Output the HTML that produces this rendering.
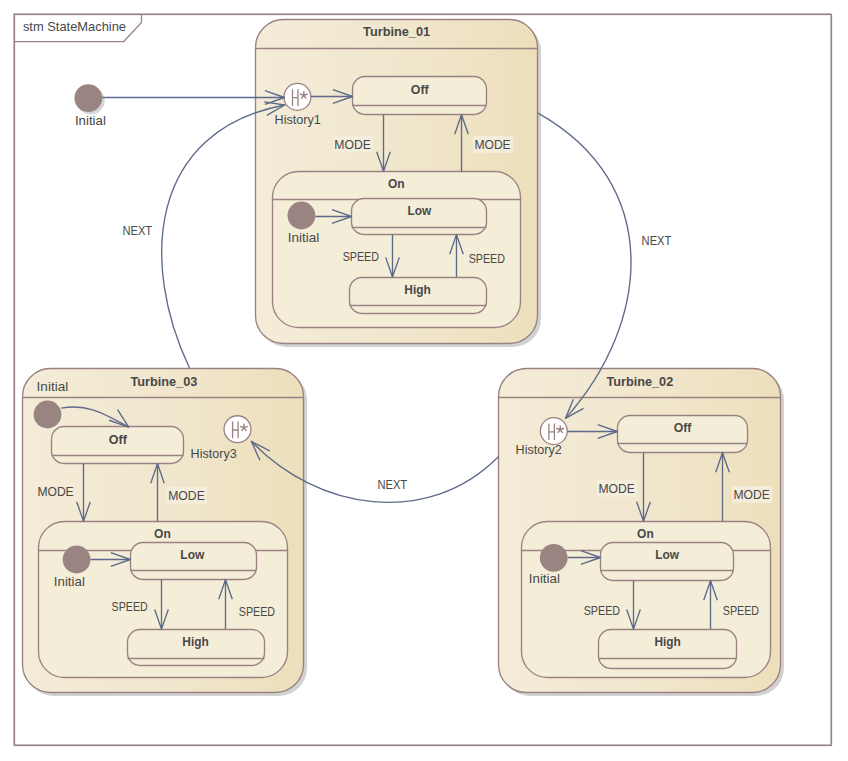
<!DOCTYPE html><html><head><meta charset="utf-8"><style>html,body{margin:0;padding:0;background:#fff;overflow:hidden;}svg{display:block;font-family:"Liberation Sans",sans-serif;}</style></head><body>
<svg width="848" height="761" viewBox="0 0 848 761">
<defs><linearGradient id="g" x1="0" y1="0" x2="1" y2="0"><stop offset="0" stop-color="#f4ecd8"/><stop offset="0.5" stop-color="#f1e7ce"/><stop offset="1" stop-color="#ecdfbb"/></linearGradient></defs>
<rect x="13.5" y="13.5" width="817" height="731" fill="none" stroke="#c4c4c4" stroke-width="1"/>
<rect x="14.5" y="14.5" width="817" height="731" fill="none" stroke="#9a8282" stroke-width="1.25"/>
<path d="M14.5,41.5 H123.7 L141.5,22.5 V14.5" fill="none" stroke="#9a8282" stroke-width="1.25"/>
<text x="74.45" y="31.1" font-size="13" font-weight="normal" text-anchor="middle" fill="#484848" textLength="103.1" lengthAdjust="spacingAndGlyphs">stm StateMachine</text>
<rect x="258.5" y="23.0" width="282.5" height="324.0" rx="28" fill="#d2d2d2" />
<rect x="255.5" y="19.5" width="282.0" height="324.0" rx="28" fill="url(#g)" stroke="#9a8282" stroke-width="1.35"/>
<line x1="255.5" y1="48.5" x2="537.5" y2="48.5" stroke="#9a8282" stroke-width="1.3"/>
<text x="396.60" y="35.7" font-size="13" font-weight="bold" text-anchor="middle" fill="#484848" textLength="67.0" lengthAdjust="spacingAndGlyphs">Turbine_01</text>
<circle cx="90.8" cy="100.6" r="13.9" fill="#d6d6d6"/>
<circle cx="88.3" cy="98.1" r="13.9" fill="#9a8482"/>
<text x="90.40" y="124.8" font-size="13" font-weight="normal" text-anchor="middle" fill="#484848" textLength="31.0" lengthAdjust="spacingAndGlyphs">Initial</text>
<circle cx="297.4" cy="96.9" r="13.45" fill="#ffffff" stroke="#9a8282" stroke-width="1.3"/>
<path d="M292.50,89.20 V105.90 M298.00,89.20 V105.90 M292.50,97.70 H298.00" stroke="#9a8282" stroke-width="1.3" fill="none"/>
<path d="M303.80,95.30 L303.80,91.20 M303.80,95.30 L307.70,94.03 M303.80,95.30 L306.21,98.62 M303.80,95.30 L301.39,98.62 M303.80,95.30 L299.90,94.03 " stroke="#9a8282" stroke-width="1.4" fill="none"/>
<text x="297.70" y="123.7" font-size="13" font-weight="normal" text-anchor="middle" fill="#484848" textLength="46.2" lengthAdjust="spacingAndGlyphs">History1</text>
<rect x="352.5" y="76.5" width="134.0" height="38.0" rx="12.5" fill="#f4edd8" stroke="#9a8282" stroke-width="1.35"/>
<line x1="352.5" y1="105.5" x2="486.5" y2="105.5" stroke="#9a8282" stroke-width="1.3"/>
<text x="419.75" y="93.9" font-size="13" font-weight="bold" text-anchor="middle" fill="#484848" textLength="17.9" lengthAdjust="spacingAndGlyphs">Off</text>
<rect x="272.5" y="171.5" width="248.0" height="156.0" rx="26" fill="#f4edd8" stroke="#9a8282" stroke-width="1.35"/>
<line x1="272.5" y1="199.5" x2="520.5" y2="199.5" stroke="#9a8282" stroke-width="1.3"/>
<text x="396.25" y="187.9" font-size="13" font-weight="bold" text-anchor="middle" fill="#484848" textLength="16.7" lengthAdjust="spacingAndGlyphs">On</text>
<rect x="351.5" y="198.5" width="135.0" height="36.0" rx="12.5" fill="#f4edd8" stroke="#9a8282" stroke-width="1.35"/>
<line x1="351.5" y1="227.5" x2="486.5" y2="227.5" stroke="#9a8282" stroke-width="1.3"/>
<text x="419.35" y="214.7" font-size="13" font-weight="bold" text-anchor="middle" fill="#484848" textLength="23.7" lengthAdjust="spacingAndGlyphs">Low</text>
<rect x="349.5" y="277.5" width="137.0" height="36.0" rx="12.5" fill="#f4edd8" stroke="#9a8282" stroke-width="1.35"/>
<line x1="349.5" y1="305.5" x2="486.5" y2="305.5" stroke="#9a8282" stroke-width="1.3"/>
<text x="417.55" y="293.8" font-size="13" font-weight="bold" text-anchor="middle" fill="#484848" textLength="26.5" lengthAdjust="spacingAndGlyphs">High</text>
<circle cx="301.4" cy="215.5" r="13.9" fill="#9a8482"/>
<text x="303.45" y="241.9" font-size="13" font-weight="normal" text-anchor="middle" fill="#484848" textLength="31.5" lengthAdjust="spacingAndGlyphs">Initial</text>
<line x1="102.2" y1="97.5" x2="284.5" y2="97.5" stroke="#5d6a8a" stroke-width="1.35"/>
<polyline points="264.90,104.30 284.50,97.50 264.90,90.70" fill="none" stroke="#5d6a8a" stroke-width="1.35" stroke-linejoin="round"/>
<line x1="310.8" y1="96.5" x2="352.5" y2="96.5" stroke="#5d6a8a" stroke-width="1.35"/>
<polyline points="332.90,103.30 352.50,96.50 332.90,89.70" fill="none" stroke="#5d6a8a" stroke-width="1.35" stroke-linejoin="round"/>
<line x1="383.5" y1="114.7" x2="383.5" y2="171.3" stroke="#5d6a8a" stroke-width="1.35"/>
<polyline points="376.70,151.70 383.50,171.30 390.30,151.70" fill="none" stroke="#5d6a8a" stroke-width="1.35" stroke-linejoin="round"/>
<line x1="461.5" y1="171.3" x2="461.5" y2="114.7" stroke="#5d6a8a" stroke-width="1.35"/>
<polyline points="468.30,134.30 461.50,114.70 454.70,134.30" fill="none" stroke="#5d6a8a" stroke-width="1.35" stroke-linejoin="round"/>
<rect x="333" y="136" width="40" height="16.69999999999999" fill="#f5eddc"/>
<text x="352.55" y="148.9" font-size="13" font-weight="normal" text-anchor="middle" fill="#484848" textLength="36.5" lengthAdjust="spacingAndGlyphs">MODE</text>
<rect x="473.1" y="136" width="39.89999999999998" height="16.80000000000001" fill="#f5eddc"/>
<text x="492.55" y="149" font-size="13" font-weight="normal" text-anchor="middle" fill="#484848" textLength="36.3" lengthAdjust="spacingAndGlyphs">MODE</text>
<line x1="315.3" y1="216.5" x2="351.5" y2="216.5" stroke="#5d6a8a" stroke-width="1.35"/>
<polyline points="331.90,223.30 351.50,216.50 331.90,209.70" fill="none" stroke="#5d6a8a" stroke-width="1.35" stroke-linejoin="round"/>
<line x1="392.5" y1="234.6" x2="392.5" y2="277" stroke="#5d6a8a" stroke-width="1.35"/>
<polyline points="385.70,257.40 392.50,277.00 399.30,257.40" fill="none" stroke="#5d6a8a" stroke-width="1.35" stroke-linejoin="round"/>
<line x1="456.5" y1="277" x2="456.5" y2="234.6" stroke="#5d6a8a" stroke-width="1.35"/>
<polyline points="463.30,254.20 456.50,234.60 449.70,254.20" fill="none" stroke="#5d6a8a" stroke-width="1.35" stroke-linejoin="round"/>
<text x="360.80" y="260.6" font-size="13" font-weight="normal" text-anchor="middle" fill="#484848" textLength="36.2" lengthAdjust="spacingAndGlyphs">SPEED</text>
<text x="486.85" y="262.6" font-size="13" font-weight="normal" text-anchor="middle" fill="#484848" textLength="36.3" lengthAdjust="spacingAndGlyphs">SPEED</text>
<rect x="25.5" y="372.0" width="281.5" height="324.0" rx="28" fill="#d2d2d2" />
<rect x="22.5" y="368.5" width="281.0" height="324.0" rx="28" fill="url(#g)" stroke="#9a8282" stroke-width="1.35"/>
<line x1="22.5" y1="397.5" x2="303.5" y2="397.5" stroke="#9a8282" stroke-width="1.3"/>
<text x="163.85" y="385.7" font-size="13" font-weight="bold" text-anchor="middle" fill="#484848" textLength="66.9" lengthAdjust="spacingAndGlyphs">Turbine_03</text>
<text x="52.40" y="390.8" font-size="13" font-weight="normal" text-anchor="middle" fill="#484848" textLength="31.6" lengthAdjust="spacingAndGlyphs">Initial</text>
<circle cx="47.5" cy="414.5" r="13.9" fill="#9a8482"/>
<rect x="51.5" y="426.5" width="132.0" height="37.0" rx="12.5" fill="#f4edd8" stroke="#9a8282" stroke-width="1.35"/>
<line x1="51.5" y1="455.5" x2="183.5" y2="455.5" stroke="#9a8282" stroke-width="1.3"/>
<text x="117.80" y="443.7" font-size="13" font-weight="bold" text-anchor="middle" fill="#484848" textLength="18.0" lengthAdjust="spacingAndGlyphs">Off</text>
<circle cx="237.5" cy="429.2" r="13.45" fill="#ffffff" stroke="#9a8282" stroke-width="1.3"/>
<path d="M232.60,421.50 V438.20 M238.10,421.50 V438.20 M232.60,430.00 H238.10" stroke="#9a8282" stroke-width="1.3" fill="none"/>
<path d="M243.90,427.60 L243.90,423.50 M243.90,427.60 L247.80,426.33 M243.90,427.60 L246.31,430.92 M243.90,427.60 L241.49,430.92 M243.90,427.60 L240.00,426.33 " stroke="#9a8282" stroke-width="1.4" fill="none"/>
<text x="213.65" y="457.7" font-size="13" font-weight="normal" text-anchor="middle" fill="#484848" textLength="46.1" lengthAdjust="spacingAndGlyphs">History3</text>
<rect x="38.5" y="521.5" width="249.0" height="156.0" rx="26" fill="#f4edd8" stroke="#9a8282" stroke-width="1.35"/>
<line x1="38.5" y1="550.5" x2="287.5" y2="550.5" stroke="#9a8282" stroke-width="1.3"/>
<text x="162.40" y="537.6" font-size="13" font-weight="bold" text-anchor="middle" fill="#484848" textLength="16.8" lengthAdjust="spacingAndGlyphs">On</text>
<rect x="130.5" y="542.5" width="126.0" height="37.0" rx="12.5" fill="#f4edd8" stroke="#9a8282" stroke-width="1.35"/>
<line x1="130.5" y1="570.5" x2="256.5" y2="570.5" stroke="#9a8282" stroke-width="1.3"/>
<text x="192.30" y="558.8" font-size="13" font-weight="bold" text-anchor="middle" fill="#484848" textLength="24.0" lengthAdjust="spacingAndGlyphs">Low</text>
<rect x="127.5" y="629.5" width="137.0" height="36.0" rx="12.5" fill="#f4edd8" stroke="#9a8282" stroke-width="1.35"/>
<line x1="127.5" y1="658.5" x2="264.5" y2="658.5" stroke="#9a8282" stroke-width="1.3"/>
<text x="195.50" y="646" font-size="13" font-weight="bold" text-anchor="middle" fill="#484848" textLength="26.4" lengthAdjust="spacingAndGlyphs">High</text>
<circle cx="76.6" cy="559.5" r="13.9" fill="#9a8482"/>
<text x="69.35" y="585.9" font-size="13" font-weight="normal" text-anchor="middle" fill="#484848" textLength="31.1" lengthAdjust="spacingAndGlyphs">Initial</text>
<line x1="83.5" y1="463.7" x2="83.5" y2="521.3" stroke="#5d6a8a" stroke-width="1.35"/>
<polyline points="76.70,501.70 83.50,521.30 90.30,501.70" fill="none" stroke="#5d6a8a" stroke-width="1.35" stroke-linejoin="round"/>
<line x1="157.5" y1="521.3" x2="157.5" y2="463.7" stroke="#5d6a8a" stroke-width="1.35"/>
<polyline points="164.30,483.30 157.50,463.70 150.70,483.30" fill="none" stroke="#5d6a8a" stroke-width="1.35" stroke-linejoin="round"/>
<text x="55.55" y="495.7" font-size="13" font-weight="normal" text-anchor="middle" fill="#484848" textLength="36.3" lengthAdjust="spacingAndGlyphs">MODE</text>
<rect x="167.1" y="487.1" width="39.80000000000001" height="16.599999999999966" fill="#f5eddc"/>
<text x="186.50" y="499.7" font-size="13" font-weight="normal" text-anchor="middle" fill="#484848" textLength="36.6" lengthAdjust="spacingAndGlyphs">MODE</text>
<line x1="90.5" y1="559.5" x2="130.4" y2="559.5" stroke="#5d6a8a" stroke-width="1.35"/>
<polyline points="110.80,566.30 130.40,559.50 110.80,552.70" fill="none" stroke="#5d6a8a" stroke-width="1.35" stroke-linejoin="round"/>
<line x1="161.5" y1="579.7" x2="161.5" y2="629.1" stroke="#5d6a8a" stroke-width="1.35"/>
<polyline points="154.70,609.50 161.50,629.10 168.30,609.50" fill="none" stroke="#5d6a8a" stroke-width="1.35" stroke-linejoin="round"/>
<line x1="225.5" y1="629.1" x2="225.5" y2="579.7" stroke="#5d6a8a" stroke-width="1.35"/>
<polyline points="232.30,599.30 225.50,579.70 218.70,599.30" fill="none" stroke="#5d6a8a" stroke-width="1.35" stroke-linejoin="round"/>
<text x="129.65" y="610.7" font-size="13" font-weight="normal" text-anchor="middle" fill="#484848" textLength="36.1" lengthAdjust="spacingAndGlyphs">SPEED</text>
<text x="256.90" y="615.6" font-size="13" font-weight="normal" text-anchor="middle" fill="#484848" textLength="36.2" lengthAdjust="spacingAndGlyphs">SPEED</text>
<path d="M61.2,408.2 C88.1,402.9 106.3,415.0 128.7,427.1" fill="none" stroke="#5d6a8a" stroke-width="1.35"/>
<polyline points="109.12,420.24 128.70,427.10 117.57,409.59" fill="none" stroke="#5d6a8a" stroke-width="1.35" stroke-linejoin="round"/>
<rect x="501.5" y="372.0" width="282.5" height="324.0" rx="28" fill="#d2d2d2" />
<rect x="498.5" y="368.5" width="282.0" height="324.0" rx="28" fill="url(#g)" stroke="#9a8282" stroke-width="1.35"/>
<line x1="498.5" y1="397.5" x2="780.5" y2="397.5" stroke="#9a8282" stroke-width="1.3"/>
<text x="639.80" y="385.7" font-size="13" font-weight="bold" text-anchor="middle" fill="#484848" textLength="66.8" lengthAdjust="spacingAndGlyphs">Turbine_02</text>
<circle cx="553.8" cy="431.1" r="13.45" fill="#ffffff" stroke="#9a8282" stroke-width="1.3"/>
<path d="M548.90,423.40 V440.10 M554.40,423.40 V440.10 M548.90,431.90 H554.40" stroke="#9a8282" stroke-width="1.3" fill="none"/>
<path d="M560.20,429.50 L560.20,425.40 M560.20,429.50 L564.10,428.23 M560.20,429.50 L562.61,432.82 M560.20,429.50 L557.79,432.82 M560.20,429.50 L556.30,428.23 " stroke="#9a8282" stroke-width="1.4" fill="none"/>
<text x="538.65" y="453.9" font-size="13" font-weight="normal" text-anchor="middle" fill="#484848" textLength="46.1" lengthAdjust="spacingAndGlyphs">History2</text>
<rect x="617.5" y="415.5" width="130.0" height="37.0" rx="12.5" fill="#f4edd8" stroke="#9a8282" stroke-width="1.35"/>
<line x1="617.5" y1="443.5" x2="747.5" y2="443.5" stroke="#9a8282" stroke-width="1.3"/>
<text x="682.55" y="431.8" font-size="13" font-weight="bold" text-anchor="middle" fill="#484848" textLength="17.7" lengthAdjust="spacingAndGlyphs">Off</text>
<rect x="521.5" y="521.5" width="249.0" height="156.0" rx="26" fill="#f4edd8" stroke="#9a8282" stroke-width="1.35"/>
<line x1="521.5" y1="550.5" x2="770.5" y2="550.5" stroke="#9a8282" stroke-width="1.3"/>
<text x="645.40" y="537.6" font-size="13" font-weight="bold" text-anchor="middle" fill="#484848" textLength="16.6" lengthAdjust="spacingAndGlyphs">On</text>
<rect x="600.5" y="542.5" width="133.0" height="38.0" rx="12.5" fill="#f4edd8" stroke="#9a8282" stroke-width="1.35"/>
<line x1="600.5" y1="570.5" x2="733.5" y2="570.5" stroke="#9a8282" stroke-width="1.3"/>
<text x="667.15" y="558.8" font-size="13" font-weight="bold" text-anchor="middle" fill="#484848" textLength="23.9" lengthAdjust="spacingAndGlyphs">Low</text>
<rect x="598.5" y="629.5" width="138.0" height="39.0" rx="12.5" fill="#f4edd8" stroke="#9a8282" stroke-width="1.35"/>
<line x1="598.5" y1="658.5" x2="736.5" y2="658.5" stroke="#9a8282" stroke-width="1.3"/>
<text x="667.60" y="646" font-size="13" font-weight="bold" text-anchor="middle" fill="#484848" textLength="26.4" lengthAdjust="spacingAndGlyphs">High</text>
<circle cx="553.7" cy="557.8" r="13.9" fill="#9a8482"/>
<text x="544.35" y="582.8" font-size="13" font-weight="normal" text-anchor="middle" fill="#484848" textLength="31.1" lengthAdjust="spacingAndGlyphs">Initial</text>
<line x1="567.4" y1="431.5" x2="617.3" y2="431.5" stroke="#5d6a8a" stroke-width="1.35"/>
<polyline points="597.70,438.30 617.30,431.50 597.70,424.70" fill="none" stroke="#5d6a8a" stroke-width="1.35" stroke-linejoin="round"/>
<line x1="643.5" y1="452.7" x2="643.5" y2="521.3" stroke="#5d6a8a" stroke-width="1.35"/>
<polyline points="636.70,501.70 643.50,521.30 650.30,501.70" fill="none" stroke="#5d6a8a" stroke-width="1.35" stroke-linejoin="round"/>
<line x1="722.5" y1="521.3" x2="722.5" y2="452.7" stroke="#5d6a8a" stroke-width="1.35"/>
<polyline points="729.30,472.30 722.50,452.70 715.70,472.30" fill="none" stroke="#5d6a8a" stroke-width="1.35" stroke-linejoin="round"/>
<rect x="597.1" y="480.1" width="39.799999999999955" height="16.799999999999955" fill="#f5eddc"/>
<text x="616.60" y="492.7" font-size="13" font-weight="normal" text-anchor="middle" fill="#484848" textLength="36.4" lengthAdjust="spacingAndGlyphs">MODE</text>
<rect x="732.1" y="486" width="40.0" height="16.80000000000001" fill="#f5eddc"/>
<text x="751.60" y="499" font-size="13" font-weight="normal" text-anchor="middle" fill="#484848" textLength="36.4" lengthAdjust="spacingAndGlyphs">MODE</text>
<line x1="567.6" y1="557.5" x2="600.4" y2="557.5" stroke="#5d6a8a" stroke-width="1.35"/>
<polyline points="580.80,564.30 600.40,557.50 580.80,550.70" fill="none" stroke="#5d6a8a" stroke-width="1.35" stroke-linejoin="round"/>
<line x1="633.5" y1="580.7" x2="633.5" y2="629.1" stroke="#5d6a8a" stroke-width="1.35"/>
<polyline points="626.70,609.50 633.50,629.10 640.30,609.50" fill="none" stroke="#5d6a8a" stroke-width="1.35" stroke-linejoin="round"/>
<line x1="710.5" y1="629.1" x2="710.5" y2="580.7" stroke="#5d6a8a" stroke-width="1.35"/>
<polyline points="717.30,600.30 710.50,580.70 703.70,600.30" fill="none" stroke="#5d6a8a" stroke-width="1.35" stroke-linejoin="round"/>
<text x="601.90" y="614.8" font-size="13" font-weight="normal" text-anchor="middle" fill="#484848" textLength="36.4" lengthAdjust="spacingAndGlyphs">SPEED</text>
<text x="740.95" y="614.8" font-size="13" font-weight="normal" text-anchor="middle" fill="#484848" textLength="36.3" lengthAdjust="spacingAndGlyphs">SPEED</text>
<path d="M189.5,368 C139.4,262.2 149.0,130.4 284.8,105" fill="none" stroke="#5d6a8a" stroke-width="1.35"/>
<polyline points="266.78,115.29 284.80,105.00 264.28,101.92" fill="none" stroke="#5d6a8a" stroke-width="1.35" stroke-linejoin="round"/>
<text x="137.30" y="234.8" font-size="13" font-weight="normal" text-anchor="middle" fill="#484848" textLength="29.8" lengthAdjust="spacingAndGlyphs">NEXT</text>
<path d="M538,113.1 C662.9,182.9 651.7,321.6 565.4,418.4" fill="none" stroke="#5d6a8a" stroke-width="1.35"/>
<polyline points="573.37,399.24 565.40,418.40 583.52,408.30" fill="none" stroke="#5d6a8a" stroke-width="1.35" stroke-linejoin="round"/>
<text x="656.50" y="244.9" font-size="13" font-weight="normal" text-anchor="middle" fill="#484848" textLength="29.8" lengthAdjust="spacingAndGlyphs">NEXT</text>
<path d="M498.6,456.5 C427.9,528.2 317.0,510.4 251.3,441.3" fill="none" stroke="#5d6a8a" stroke-width="1.35"/>
<polyline points="269.73,450.82 251.30,441.30 259.88,460.19" fill="none" stroke="#5d6a8a" stroke-width="1.35" stroke-linejoin="round"/>
<text x="392.30" y="488.6" font-size="13" font-weight="normal" text-anchor="middle" fill="#484848" textLength="29.8" lengthAdjust="spacingAndGlyphs">NEXT</text>
</svg></body></html>
